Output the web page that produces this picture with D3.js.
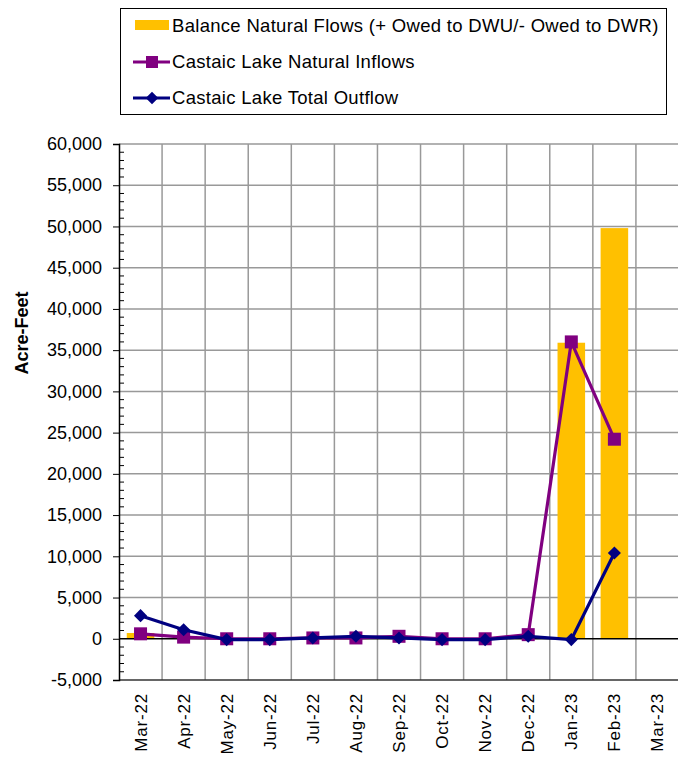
<!DOCTYPE html>
<html><head><meta charset="utf-8">
<script src="https://cdn.jsdelivr.net/npm/d3@7"></script>
<style>body{margin:0;background:#fff}svg{display:block;font-family:Arial,"Liberation Sans",sans-serif}</style>
</head><body><svg id="c" width="678" height="763"></svg>
<script>
const months = ["Mar-22","Apr-22","May-22","Jun-22","Jul-22","Aug-22","Sep-22","Oct-22","Nov-22","Dec-22","Jan-23","Feb-23","Mar-23"];
const balance = [700,0,0,0,0,0,0,0,0,0,35900,49800,null];
const inflows = [600,200,0,0,100,100,300,0,0,500,36000,24200,null];
const outflow = [2800,1100,-100,-100,100,300,100,-100,-100,300,-100,10400,null];
const yTicks = [-5000,0,5000,10000,15000,20000,25000,30000,35000,40000,45000,50000,55000,60000];

const svg = d3.select("#c");
const L=119, R=679, T=144, B=680;
const x = d3.scaleBand().domain(months).range([L,R]).paddingInner(0).paddingOuter(0);
const y = d3.scaleLinear().domain([-5000,60000]).range([B,T]);
const bw = x.bandwidth();
const fmt = d => (d<0?"-":"") + d3.format(",")(Math.abs(d));

// gridlines
const g = svg.append("g");
g.selectAll("line.h").data(yTicks.filter(d=>d!==0 && d!==-5000)).join("line")
  .attr("x1",L).attr("x2",R).attr("y1",d=>y(d)).attr("y2",d=>y(d))
  .attr("stroke","#999").attr("stroke-width",1.5);
g.selectAll("line.v").data(months.slice(1)).join("line")
  .attr("x1",d=>x(d)).attr("x2",d=>x(d)).attr("y1",T).attr("y2",B)
  .attr("stroke","#999").attr("stroke-width",1.5);

// bars
svg.append("g").selectAll("rect").data(months.map((m,i)=>({m,v:balance[i]})).filter(d=>d.v)).join("rect")
  .attr("x",d=>x(d.m)+bw*0.18).attr("width",bw*0.64)
  .attr("y",d=>y(Math.max(0,d.v))).attr("height",d=>Math.abs(y(d.v)-y(0)))
  .attr("fill","#FFC000");

// zero line and bottom line
svg.append("line").attr("x1",L).attr("x2",R).attr("y1",y(0)).attr("y2",y(0)).attr("stroke","#000").attr("stroke-width",1.3);
svg.append("line").attr("x1",L).attr("x2",R).attr("y1",B).attr("y2",B).attr("stroke","#333").attr("stroke-width",1.5);

// y axis
const ya = svg.append("g").attr("transform",`translate(${L},0)`)
  .call(d3.axisLeft(y).tickValues(yTicks).tickFormat(fmt).tickSize(6).tickPadding(11));
ya.select(".domain").attr("stroke","#000").attr("stroke-width",1.5);
ya.selectAll(".tick line").attr("stroke","#000");
ya.selectAll("text").attr("font-size",18).attr("fill","#000").attr("font-family","Arial,'Liberation Sans',sans-serif");
const minor = d3.range(-5000,60001,1000).filter(d=>d%5000!==0);
svg.append("g").selectAll("line").data(minor).join("line")
  .attr("x1",L).attr("x2",L+5).attr("y1",d=>y(d)).attr("y2",d=>y(d)).attr("stroke","#000");

// x axis labels
svg.append("g").selectAll("text").data(months).join("text")
  .attr("transform",d=>`translate(${x(d)+bw/2+6},${B+13}) rotate(-90)`)
  .attr("text-anchor","end").attr("font-size",17).attr("letter-spacing",0.8).attr("fill","#000").text(d=>d);

// y title
svg.append("text").attr("transform",`translate(28,333) rotate(-90)`)
  .attr("text-anchor","middle").attr("font-size",18).attr("font-weight","bold").text("Acre-Feet");

// lines
const cx = m=>x(m)+bw/2;
function series(vals,color){
  const pts = months.map((m,i)=>({m,v:vals[i]})).filter(d=>d.v!==null);
  svg.append("path").datum(pts).attr("fill","none").attr("stroke",color).attr("stroke-width",3.2)
    .attr("d",d3.line().x(d=>cx(d.m)).y(d=>y(d.v)));
  return pts;
}
const p1 = series(inflows,"#800080");
svg.append("g").selectAll("rect").data(p1).join("rect")
  .attr("x",d=>cx(d.m)-6.5).attr("y",d=>y(d.v)-6.5).attr("width",13).attr("height",13).attr("fill","#800080");
const p2 = series(outflow,"#000080");
svg.append("g").selectAll("path.d").data(p2).join("path")
  .attr("d",d3.symbol().type(d3.symbolDiamond2).size(110))
  .attr("transform",d=>`translate(${cx(d.m)},${y(d.v)})`).attr("fill","#000080");

// legend
const lg = svg.append("g");
lg.append("rect").attr("x",120.5).attr("y",8.5).attr("width",546).attr("height",106).attr("fill","#fff").attr("stroke","#000");
const items = [
  {t:"Balance Natural Flows (+ Owed to DWU/- Owed to DWR)",type:"bar",c:"#FFC000"},
  {t:"Castaic Lake Natural Inflows",type:"sq",c:"#800080"},
  {t:"Castaic Lake Total Outflow",type:"dia",c:"#000080"}];
items.forEach((it,i)=>{
  const yy = 25+i*36;
  if(it.type==="bar") lg.append("rect").attr("x",135).attr("y",yy-5).attr("width",34).attr("height",10).attr("fill",it.c);
  else {
    lg.append("line").attr("x1",133).attr("x2",170).attr("y1",yy+1).attr("y2",yy+1).attr("stroke",it.c).attr("stroke-width",3);
    if(it.type==="sq") lg.append("rect").attr("x",146).attr("y",yy-5).attr("width",12).attr("height",12).attr("fill",it.c);
    else lg.append("path").attr("d",d3.symbol().type(d3.symbolDiamond2).size(100)).attr("transform",`translate(152,${yy+1})`).attr("fill",it.c);
  }
  lg.append("text").attr("x",172).attr("y",yy+7).attr("font-size",18.5).attr("letter-spacing",0.3).attr("fill","#000").text(it.t);
});
</script></body></html>
